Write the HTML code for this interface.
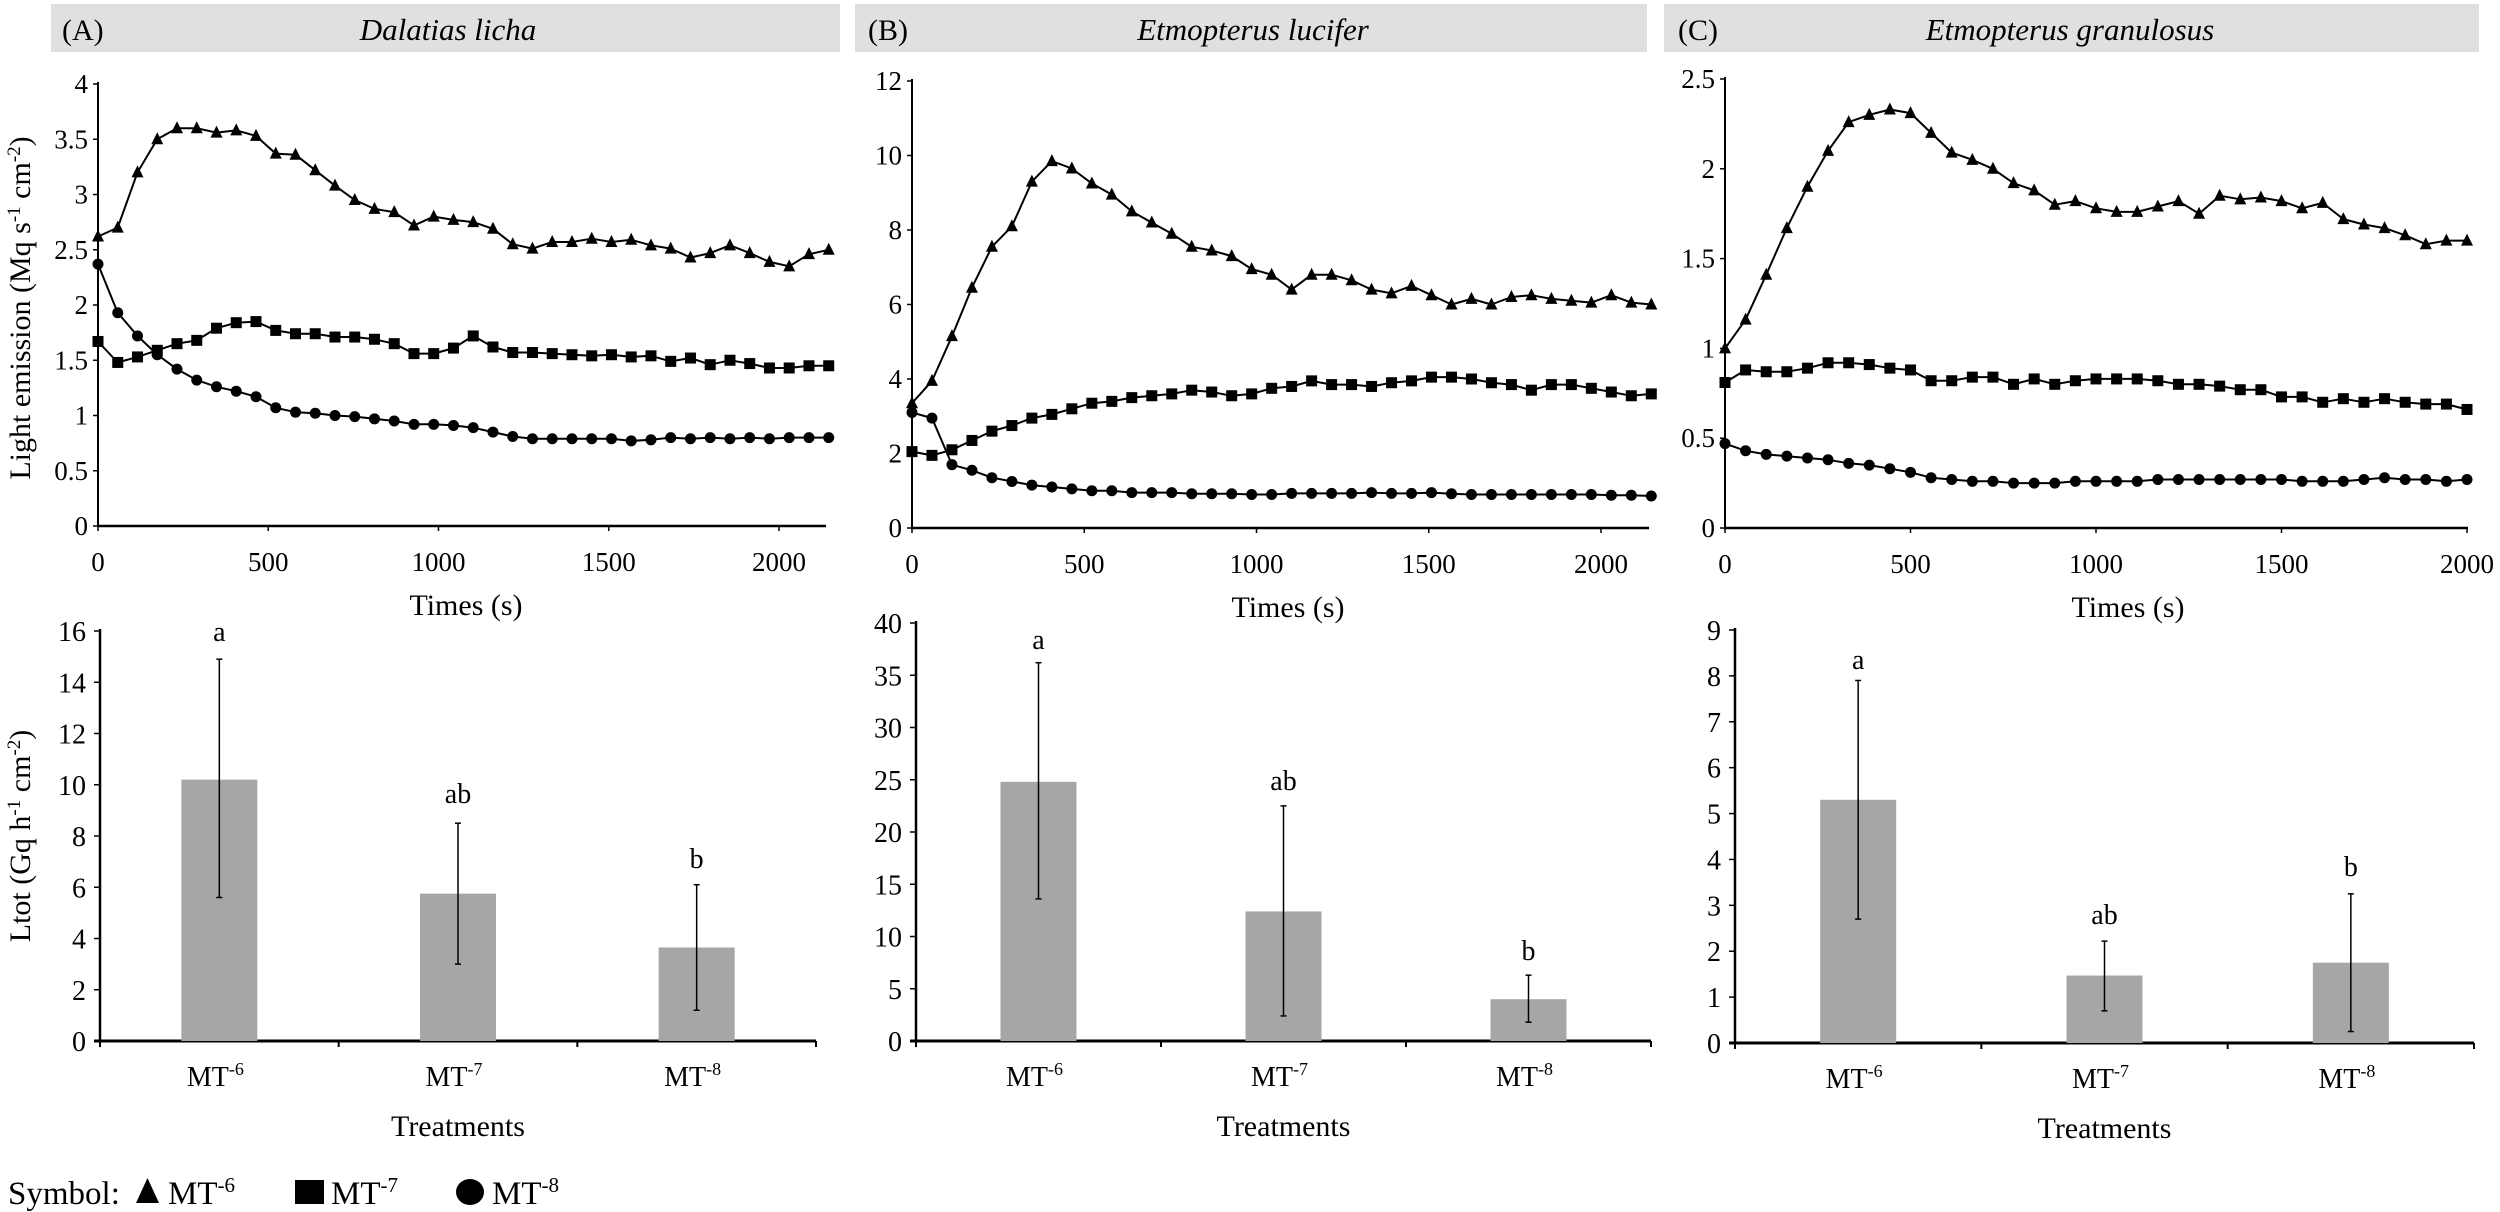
<!DOCTYPE html>
<html><head><meta charset="utf-8"><style>
html,body{margin:0;padding:0;background:#fff;}
svg{display:block;font-family:"Liberation Serif",serif;}
</style></head><body>
<svg id="s" width="2500" height="1212" viewBox="0 0 2500 1212" xmlns="http://www.w3.org/2000/svg">
<rect x="51" y="4" width="789" height="48" fill="#e0e0e0"/>
<rect x="855" y="4" width="792" height="48" fill="#e0e0e0"/>
<rect x="1664" y="4" width="815" height="48" fill="#e0e0e0"/>
<text x="62" y="40" font-size="30">(A)</text>
<text x="448" y="40" font-size="31" font-style="italic" text-anchor="middle">Dalatias licha</text>
<text x="868" y="40" font-size="30">(B)</text>
<text x="1253" y="40" font-size="31" font-style="italic" text-anchor="middle">Etmopterus lucifer</text>
<text x="1678" y="40" font-size="30">(C)</text>
<text x="2070" y="40" font-size="31" font-style="italic" text-anchor="middle">Etmopterus granulosus</text>
<text transform="translate(30,308) rotate(-90)" font-size="30" text-anchor="middle">Light emission (Mq s<tspan dy="-10" font-size="19">-1</tspan><tspan dy="10"> cm</tspan><tspan dy="-10" font-size="19">-2</tspan><tspan dy="10">)</tspan></text>
<text transform="translate(30,836) rotate(-90)" font-size="30" text-anchor="middle">Ltot (Gq h<tspan dy="-10" font-size="19">-1</tspan><tspan dy="10"> cm</tspan><tspan dy="-10" font-size="19">-2</tspan><tspan dy="10">)</tspan></text>
<g id="g"></g>
<text x="8" y="1204" font-size="33">Symbol:</text>
<polygon points="136,1203 159,1203 147.5,1178" fill="#000"/>
<text x="168" y="1204" font-size="33">MT<tspan dy="-12" font-size="21">-6</tspan></text>
<rect x="295" y="1180" width="29" height="24" fill="#000"/>
<text x="331" y="1204" font-size="33">MT<tspan dy="-12" font-size="21">-7</tspan></text>
<ellipse cx="470" cy="1192" rx="14" ry="13" fill="#000"/>
<text x="492" y="1204" font-size="33">MT<tspan dy="-12" font-size="21">-8</tspan></text>
</svg>
<script>
(function(){
var g=document.getElementById('g'),h='';
function T(x,y,s,fs,a){h+='<text x="'+x+'" y="'+y+'" font-size="'+fs+'" text-anchor="'+(a||'middle')+'">'+s+'</text>';}
function L(x1,y1,x2,y2,w){h+='<line x1="'+x1+'" y1="'+y1+'" x2="'+x2+'" y2="'+y2+'" stroke="#000" stroke-width="'+(w||2)+'"/>';}
function lineChart(c){
  var sy=(c.y0-c.yt)/c.ymax;
  L(c.x0,c.yt-2,c.x0,c.y0,2);L(c.x0-1,c.y0,c.xe,c.y0,2.5);
  for(var v=0;v<=c.ymax+1e-9;v+=c.ystep){var y=c.y0-v*sy;L(c.x0-5,y,c.x0,y,1.5);T(c.x0-10,y+9,(Math.round(v*10)/10)+'',27,'end');}
  for(var t=0;t<=2000;t+=500){var x=c.x0+t*c.sx;L(x,c.y0,x,c.y0+5,1.5);T(x,c.y0+45,t+'',27);}
  T(c.tx,c.y0+89,'Times (s)',30);
  c.series.forEach(function(s,k){
    var n=s.length,pts=[];
    for(var i=0;i<n;i++){pts.push([c.x0+i*c.dt*c.sx,c.y0-s[i]*sy]);}
    h+='<polyline fill="none" stroke="#000" stroke-width="2" stroke-linejoin="round" points="'+pts.map(function(p){return p[0].toFixed(1)+','+p[1].toFixed(1)}).join(' ')+'"/>';
    pts.forEach(function(p){
      if(k==0)h+='<polygon points="'+(p[0]-6)+','+(p[1]+5)+' '+(p[0]+6)+','+(p[1]+5)+' '+p[0]+','+(p[1]-7)+'" fill="#000"/>';
      else if(k==1)h+='<rect x="'+(p[0]-5.5)+'" y="'+(p[1]-5.5)+'" width="11" height="11" fill="#000"/>';
      else h+='<circle cx="'+p[0]+'" cy="'+p[1]+'" r="5.5" fill="#000"/>';
    });
  });
}
function barChart(c){
  var sy=(c.y0-c.yt)/c.ymax;
  L(c.x0,c.yt-2,c.x0,c.y0,2.5);L(c.x0-6,c.y0,c.xe,c.y0,3);
  for(var v=0;v<=c.ymax;v+=c.ystep){var y=c.y0-v*sy;L(c.x0-6,y,c.x0,y,1.5);T(c.x0-14,y+10,v+'',28,'end');}
  var w=(c.xe-c.x0)/3;
  for(var i=0;i<=3;i++){L(c.x0+i*w,c.y0,c.x0+i*w,c.y0+6,2);}
  var labs=['-6','-7','-8'];
  c.bars.forEach(function(b,i){
    var cx=c.x0+w*(i+0.5);
    h+='<rect x="'+(cx-38)+'" y="'+(c.y0-b[0]*sy)+'" width="76" height="'+(b[0]*sy)+'" fill="#a6a6a6"/>';
    var y1=c.y0-b[1]*sy,y2=c.y0-b[2]*sy;
    L(cx,y1,cx,y2,1.5);L(cx-3,y1,cx+3,y1,1.5);L(cx-3,y2,cx+3,y2,1.5);
    T(cx,b[4],b[3],28);
    h+='<text x="'+(cx-4)+'" y="'+(c.y0+45)+'" font-size="28" text-anchor="middle">MT<tspan dy="-11" font-size="18">'+labs[i]+'</tspan></text>';
  });
  T((c.x0+c.xe)/2,c.y0+95,'Treatments',30);
}
lineChart({x0:98,xe:826,sx:0.3405,y0:526,yt:84,ymax:4,ystep:0.5,dt:58,tx:466,series:[
[2.62,2.7,3.2,3.5,3.6,3.6,3.56,3.58,3.53,3.37,3.36,3.22,3.08,2.95,2.87,2.84,2.72,2.8,2.77,2.75,2.69,2.55,2.51,2.57,2.57,2.6,2.57,2.59,2.54,2.51,2.43,2.47,2.54,2.47,2.39,2.35,2.46,2.5],
[1.67,1.48,1.53,1.59,1.65,1.68,1.79,1.84,1.85,1.77,1.74,1.74,1.71,1.71,1.69,1.65,1.56,1.56,1.61,1.72,1.62,1.57,1.57,1.56,1.55,1.54,1.55,1.53,1.54,1.49,1.52,1.46,1.5,1.47,1.43,1.43,1.45,1.45],
[2.37,1.93,1.72,1.55,1.42,1.32,1.26,1.22,1.17,1.07,1.03,1.02,1.0,0.99,0.97,0.95,0.92,0.92,0.91,0.89,0.85,0.81,0.79,0.79,0.79,0.79,0.79,0.77,0.78,0.8,0.79,0.8,0.79,0.8,0.79,0.8,0.8,0.8]]});
lineChart({x0:912,xe:1649,sx:0.3445,y0:528,yt:81,ymax:12,ystep:2,dt:58,tx:1288,series:[
[3.35,3.95,5.15,6.45,7.55,8.1,9.3,9.85,9.65,9.25,8.95,8.5,8.2,7.9,7.55,7.45,7.3,6.95,6.8,6.4,6.8,6.8,6.65,6.4,6.3,6.5,6.25,6.0,6.15,6.0,6.2,6.25,6.15,6.1,6.05,6.25,6.05,6.0],
[2.05,1.95,2.1,2.35,2.6,2.75,2.95,3.05,3.2,3.35,3.4,3.5,3.55,3.6,3.7,3.65,3.55,3.6,3.75,3.8,3.95,3.85,3.85,3.8,3.9,3.95,4.05,4.05,4.0,3.9,3.85,3.7,3.85,3.85,3.75,3.65,3.55,3.6],
[3.1,2.95,1.7,1.55,1.35,1.25,1.15,1.1,1.05,1.0,1.0,0.95,0.95,0.95,0.92,0.92,0.92,0.9,0.9,0.93,0.93,0.93,0.93,0.95,0.93,0.93,0.95,0.92,0.9,0.9,0.9,0.9,0.9,0.9,0.9,0.88,0.88,0.86]]});
lineChart({x0:1725,xe:2468,sx:0.371,y0:528,yt:79,ymax:2.5,ystep:0.5,dt:2000/36,tx:2128,series:[
[1.0,1.16,1.41,1.67,1.9,2.1,2.26,2.3,2.33,2.31,2.2,2.09,2.05,2.0,1.92,1.88,1.8,1.82,1.78,1.76,1.76,1.79,1.82,1.75,1.85,1.83,1.84,1.82,1.78,1.81,1.72,1.69,1.67,1.63,1.58,1.6,1.6],
[0.81,0.88,0.87,0.87,0.89,0.92,0.92,0.91,0.89,0.88,0.82,0.82,0.84,0.84,0.8,0.83,0.8,0.82,0.83,0.83,0.83,0.82,0.8,0.8,0.79,0.77,0.77,0.73,0.73,0.7,0.72,0.7,0.72,0.7,0.69,0.69,0.66],
[0.47,0.43,0.41,0.4,0.39,0.38,0.36,0.35,0.33,0.31,0.28,0.27,0.26,0.26,0.25,0.25,0.25,0.26,0.26,0.26,0.26,0.27,0.27,0.27,0.27,0.27,0.27,0.27,0.26,0.26,0.26,0.27,0.28,0.27,0.27,0.26,0.27]]});
barChart({x0:100,xe:816,y0:1041,yt:631,ymax:16,ystep:2,bars:[[10.2,5.6,14.9,'a',641],[5.75,3.0,8.5,'ab',803],[3.65,1.2,6.1,'b',868]]});
barChart({x0:916,xe:1651,y0:1041,yt:623,ymax:40,ystep:5,bars:[[24.8,13.6,36.2,'a',649],[12.4,2.4,22.5,'ab',790],[4.0,1.8,6.3,'b',960]]});
barChart({x0:1735,xe:2474,y0:1043,yt:630,ymax:9,ystep:1,bars:[[5.3,2.7,7.9,'a',669],[1.47,0.7,2.22,'ab',924],[1.75,0.25,3.25,'b',876]]});
g.innerHTML=h;
})();
</script>
</body></html>
